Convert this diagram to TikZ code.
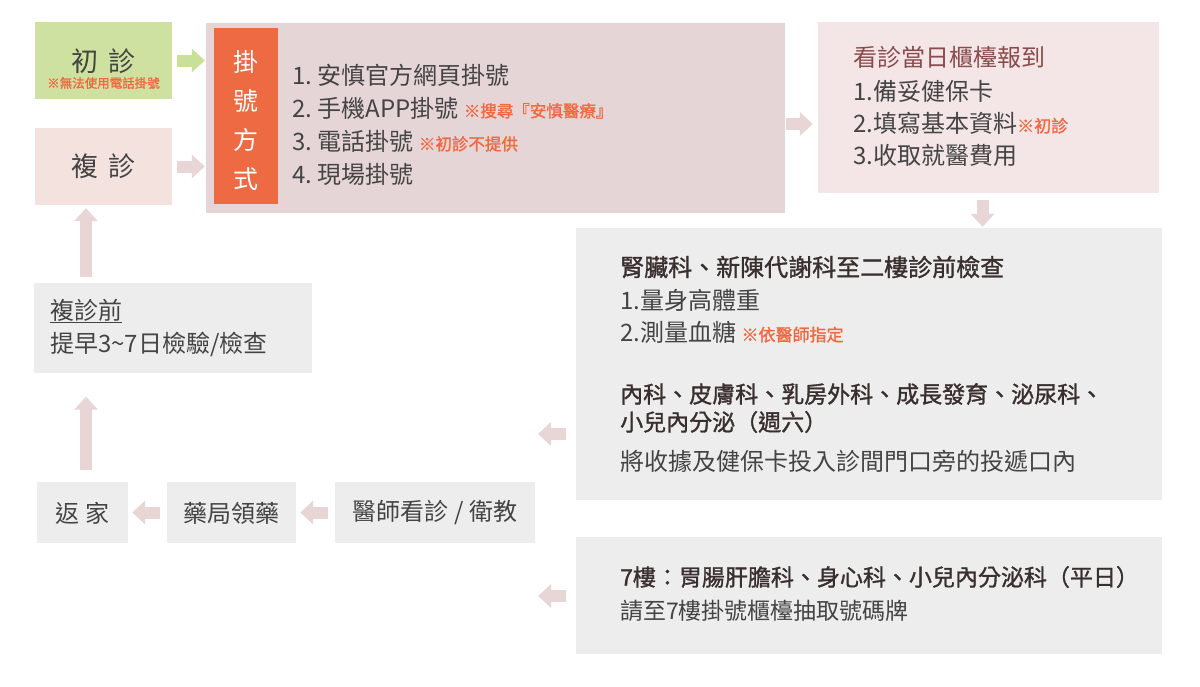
\documentclass[tikz,border=0pt]{standalone}
\usepackage{fontspec}
\setmainfont{Noto Sans CJK TC}
\newfontfamily\medfont[FakeBold=1.3]{Noto Sans CJK TC}
\usepackage{xcolor}
\usetikzlibrary{arrows.meta}

\definecolor{boxgreen}{HTML}{CFE1A0}
\definecolor{boxrose}{HTML}{F4E2DE}
\definecolor{boxmauve}{HTML}{E6D5D6}
\definecolor{boxpink}{HTML}{F4E5E6}
\definecolor{boxgray}{HTML}{EDEDED}
\definecolor{stripe}{HTML}{EE6A42}
\definecolor{notered}{HTML}{F2673F}
\definecolor{txt}{HTML}{444444}
\definecolor{heading}{HTML}{3A2F2F}
\definecolor{titlebrown}{HTML}{8A4B4E}
\definecolor{arrpink}{HTML}{E8D5D5}
\definecolor{arrgreen}{HTML}{C9E097}

\newcommand{\note}[2][16.5pt]{{\fontsize{#1}{#1}\selectfont\medfont\color{notered}#2}}

\begin{document}
\begin{tikzpicture}[x=1pt,y=-1pt]
    \tikzstyle{every node}+=[inner sep=0pt, text=txt]
    \tikzstyle{box}=[rectangle, draw=none]
    \tikzstyle{line}=[anchor=west, font=\fontsize{24pt}{24pt}\selectfont]
    \tikzstyle{head}=[anchor=west, text=heading, font=\fontsize{23pt}{23pt}\selectfont\medfont]
    \tikzstyle{arr}=[draw=arrpink, line width=12pt, -{Triangle[width=23pt,length=13pt]}]
    \useasboundingbox (0,0) rectangle (1200,686);
    % boxes
    \node[box, fill=boxgreen, minimum width=137pt, minimum height=77pt] (chu) at (103.5,60.5) {};
    \node[box, fill=boxrose, minimum width=137pt, minimum height=77pt] (fu) at (103.5,166.5) {};
    \node[box, fill=boxmauve, minimum width=579pt, minimum height=190pt] (way) at (495.5,118) {};
    \node[box, fill=stripe, minimum width=64pt, minimum height=176pt] (stripe) at (246,116) {};
    \node[box, fill=boxpink, minimum width=341pt, minimum height=171pt] (kan) at (988.5,107.5) {};
    \node[box, fill=boxgray, minimum width=586pt, minimum height=272pt] (gray1) at (869,364) {};
    \node[box, fill=boxgray, minimum width=586pt, minimum height=117pt] (gray2) at (869,595.5) {};
    \node[box, fill=boxgray, minimum width=278pt, minimum height=90pt] (pre) at (173,327.5) {};
    \node[box, fill=boxgray, minimum width=200pt, minimum height=61pt] (doc) at (435,512.5) {};
    \node[box, fill=boxgray, minimum width=129pt, minimum height=61pt] (med) at (231.5,512.5) {};
    \node[box, fill=boxgray, minimum width=91pt, minimum height=61pt] (home) at (82.5,512.5) {};
    % first / return visit
    \node[font=\fontsize{27pt}{27pt}\selectfont] (chut) at (103.5,61) {初\hspace{10pt}診};
    \node[font=\fontsize{12.5pt}{12.5pt}\selectfont\medfont, text=notered] (chun) at (103.5,83) {※無法使用電話掛號};
    \node[font=\fontsize{27pt}{27pt}\selectfont] (fut) at (103.5,166) {複\hspace{10pt}診};
    % ways to register
    \node[align=center, text=white, font=\fontsize{25pt}{39pt}\selectfont] (wayt) at (246,120.5) {掛\\號\\方\\式};
    \node[line] (way1) at (292,75) {1.\ 安慎官方網頁掛號};
    \node[line] (way2) at (292,108) {2.\ 手機APP掛號 \note{※搜尋『安慎醫療』}};
    \node[line] (way3) at (292,141) {3.\ 電話掛號 \note{※初診不提供}};
    \node[line] (way4) at (292,174) {4.\ 現場掛號};
    % check-in
    \node[line, text=titlebrown] (kant) at (853,57) {看診當日櫃檯報到};
    \node[line] (kan1) at (853,91) {1.備妥健保卡};
    \node[line] (kan2) at (853,123) {2.填寫基本資料\note[17pt]{※初診}};
    \node[line] (kan3) at (853,155) {3.收取就醫費用};
    % departments
    \node[head, font=\fontsize{24pt}{24pt}\selectfont\medfont] (dep1) at (620,267) {腎臟科、新陳代謝科至二樓診前檢查};
    \node[line] (dep2) at (620,300) {1.量身高體重};
    \node[line] (dep3) at (620,332) {2.測量血糖 \note[17pt]{※依醫師指定}};
    \node[head] (dep4) at (620,394) {內科、皮膚科、乳房外科、成長發育、泌尿科、};
    \node[head] (dep5) at (620,422) {小兒內分泌（週六）};
    \node[line] (dep6) at (620,461) {將收據及健保卡投入診間門口旁的投遞口內};
    \node[head] (sev1) at (620,577) {7樓：胃腸肝膽科、身心科、小兒內分泌科（平日）};
    \node[line, font=\fontsize{23pt}{23pt}\selectfont] (sev2) at (620,611) {請至7樓掛號櫃檯抽取號碼牌};
    % way back
    \node[font=\fontsize{24pt}{24pt}\selectfont] (doct) at (435,513) {醫師看診 / 衛教};
    \node[font=\fontsize{24pt}{24pt}\selectfont] (medt) at (231.5,513) {藥局領藥};
    \node[font=\fontsize{24pt}{24pt}\selectfont] (homet) at (82.5,513) {返\hspace{6pt}家};
    \node[line] (pret) at (50,311) {\underline{複診前}};
    \node[line] (pre2) at (50,344) {提早3\textasciitilde7日檢驗/檢查};
    \coordinate (join1) at (536,434);
    \coordinate (join2) at (536,596);
    % arrows
    \draw[arr, draw=arrgreen, shorten <=5pt, shorten >=1pt] (chu.east) -- (chu.east -| way.west);
    \draw[arr, shorten <=5pt, shorten >=1pt] (fu.east) -- (fu.east -| way.west);
    \draw[arr, shorten <=1pt, shorten >=5pt] ([yshift=-6pt]way.east) -- ([yshift=-6pt]way.east -| kan.west);
    \draw[arr, shorten <=7pt, shorten >=1pt] ([xshift=-6pt]kan.south) -- ([xshift=-6pt]kan.south |- gray1.north);
    \draw[arr, shorten <=10pt, shorten >=2pt] (gray1.west |- join1) -- (join1);
    \draw[arr, shorten <=10pt, shorten >=2pt] (gray2.west |- join2) -- (join2);
    \draw[arr, shorten <=7pt, shorten >=4pt] (doc.west) -- (doc.west -| med.east);
    \draw[arr, shorten <=7pt, shorten >=4pt] (med.west) -- (med.west -| home.east);
    \draw[arr, shorten <=12pt, shorten >=24pt] ([xshift=3.5pt]home.north) -- ([xshift=3.5pt]home.north |- pre.south);
    \draw[arr, shorten <=5pt, shorten >=3pt] ([xshift=3.5pt]home.north |- pre.north) -- ([xshift=3.5pt]home.north |- fu.south);
\end{tikzpicture}
\end{document}
